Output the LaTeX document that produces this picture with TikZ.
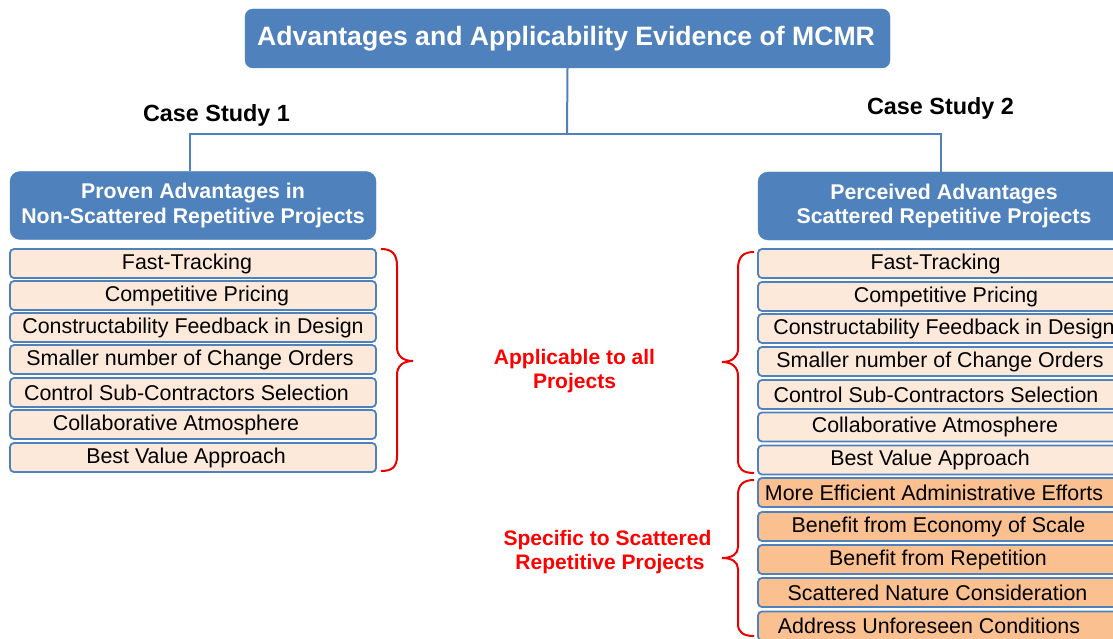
\documentclass[tikz,border=0pt]{standalone}
\usepackage{fontspec}
\setmainfont{Liberation Sans}
\definecolor{mblue}{RGB}{79,129,189}
\definecolor{peach}{RGB}{253,233,217}
\definecolor{orng}{RGB}{250,192,144}
\definecolor{mred}{RGB}{255,0,0}
\definecolor{bred}{RGB}{235,0,0}
\newcommand\txtshift[2]{\hspace*{#1pt}#2}
\tikzset{
  titlebox/.style={draw=mblue, fill=mblue, rounded corners=8pt, minimum width=645pt, minimum height=59pt, inner sep=0pt, text=white, font=\fontsize{26.6}{30}\selectfont\bfseries},
  headbox/.style={draw=mblue, fill=mblue, rounded corners=10pt, minimum width=366pt, minimum height=68pt, inner sep=0pt, text=white, align=center, font=\fontsize{21.3}{24.5}\selectfont\bfseries},
  itembox/.style={draw=mblue, line width=1.8pt, fill=peach, rounded corners=4pt, minimum width=366pt, minimum height=29pt, inner sep=0pt, font=\fontsize{21.4}{24}\selectfont},
  orangebox/.style={itembox, fill=orng},
  conn/.style={draw=mblue, line width=2pt},
  casetext/.style={font=\fontsize{23.4}{26}\selectfont\bfseries, inner sep=0pt},
  redtext/.style={text=mred, align=center, inner sep=0pt, font=\fontsize{21}{24.5}\selectfont\bfseries},
  bracepath/.style={draw=bred, line width=2pt}
}
\begin{document}
\begin{tikzpicture}[x=1pt, y=-1pt]
\useasboundingbox (0,0) rectangle (1113,639);
\clip (0,0) rectangle (1113,639);
\fill[white] (0,0) rectangle (1113,639);

\node[titlebox] (title) at (567.5,38.5) {\txtshift{-3}{Advantages and Applicability Evidence of MCMR}};

\node[casetext] (cs1) at (216.5,115) {Case Study 1};
\node[casetext] (cs2) at (940.5,108) {Case Study 2};

\node[headbox] (lh) at (193,205.5) {Proven Advantages in\\Non-Scattered Repetitive Projects};
\node[headbox] (rh) at (941,206) {\txtshift{6}{Perceived Advantages}\\\txtshift{6}{Scattered Repetitive Projects}};

\coordinate (hub) at (567,134);
\draw[conn] (title.south) -- (hub);
\draw[conn] (hub) -| (lh.north -| 190,0);
\draw[conn] (hub) -| (rh.north);

% left items
\node[itembox] (l1) at (193,263.5) {\txtshift{-12}{Fast-Tracking}};
\node[itembox] (l2) at (193,295.5) {\txtshift{8}{Competitive Pricing}};
\node[itembox] (l3) at (193,327.5) {Constructability Feedback in Design};
\node[itembox] (l4) at (193,359.5) {\txtshift{-6}{Smaller number of Change Orders}};
\node[itembox] (l5) at (193,392.5) {\txtshift{-13}{Control Sub-Contractors Selection}};
\node[itembox] (l6) at (193,424.5) {\txtshift{-34}{Collaborative Atmosphere}};
\node[itembox] (l7) at (193,457.5) {\txtshift{-14}{Best Value Approach}};

% right items
\node[itembox] (r1) at (941,263.5) {\txtshift{-11}{Fast-Tracking}};
\node[itembox] (r2) at (941,296.5) {\txtshift{10}{Competitive Pricing}};
\node[itembox] (r3) at (941,328.5) {\txtshift{6}{Constructability Feedback in Design}};
\node[itembox] (r4) at (941,361.5) {\txtshift{-2}{Smaller number of Change Orders}};
\node[itembox] (r5) at (941,394.5) {\txtshift{-10}{Control Sub-Contractors Selection}};
\node[itembox] (r6) at (941,427) {\txtshift{-12}{Collaborative Atmosphere}};
\node[itembox] (r7) at (941,460) {\txtshift{-22}{Best Value Approach}};
\node[orangebox] (r8) at (941,492.5) {\txtshift{-14}{More Efficient Administrative Efforts}};
\node[orangebox] (r9) at (941,526.5) {\txtshift{-5}{Benefit from Economy of Scale}};
\node[orangebox] (r10) at (941,559.5) {\txtshift{-6}{Benefit from Repetition}};
\node[orangebox] (r11) at (941,592.5) {\txtshift{-7}{Scattered Nature Consideration}};
\node[orangebox] (r12) at (941,626) {\txtshift{-24}{Address Unforeseen Conditions}};

% braces
\draw[bracepath] (381,249) .. controls (392,249) and (397,254) .. (397,266) -- (397,347) .. controls (397,356) and (403,361) .. (413,361) .. controls (403,361) and (397,366) .. (397,375) -- (397,456) .. controls (397,467) and (392,471) .. (381,471);
\draw[bracepath] (754,252) .. controls (743,252) and (738,257) .. (738,269) -- (738,349) .. controls (738,357) and (732,362) .. (722,362) .. controls (732,362) and (738,367) .. (738,376) -- (738,460) .. controls (738,469) and (743,473) .. (754,473);
\draw[bracepath] (754,480) .. controls (743,480) and (738,485) .. (738,495) -- (738,547) .. controls (738,554) and (732,558) .. (722,558) .. controls (732,558) and (738,562) .. (738,569) -- (738,624) .. controls (738,632) and (743,636) .. (754,636);

\node[redtext] (applab) at (574.5,371) {Applicable to all\\Projects};
\node[redtext] (speclab) at (607.5,552) {Specific to Scattered\\\txtshift{5}{Repetitive Projects}};
\end{tikzpicture}
\end{document}
